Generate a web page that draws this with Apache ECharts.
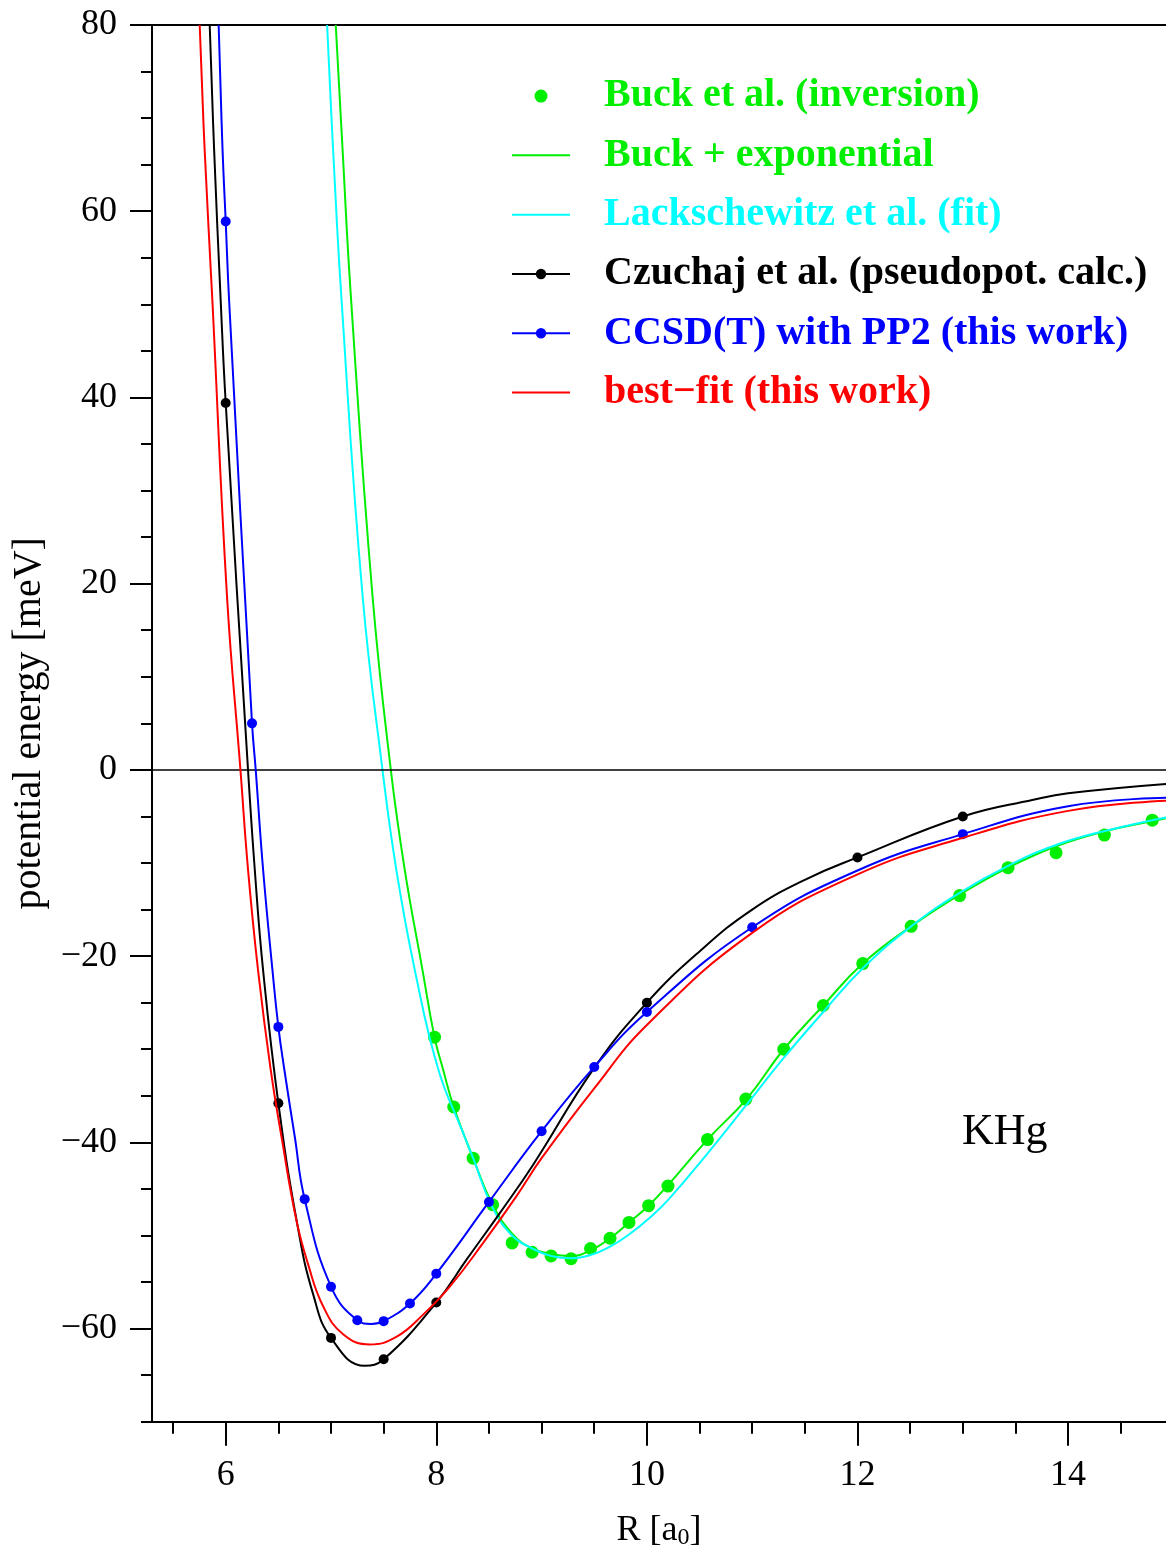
<!DOCTYPE html>
<html><head><meta charset="utf-8">
<script src="https://cdn.jsdelivr.net/npm/echarts@6/dist/echarts.min.js"></script>
<style>html,body{margin:0;padding:0;background:#fff}#c{width:1166px;height:1555px}</style>
</head><body><div id="c"></div>
<script>
// ---- tick values ----
const xMajorTicks = [6, 8, 10, 12, 14];
const xMinorTicks = [5.5, 6.5, 7, 7.5, 8.5, 9, 9.5, 10.5, 11, 11.5, 12.5, 13, 13.5, 14.5];
const yMajorTicks = [-60, -40, -20, 0, 20, 40, 60, 80];
const yMinorTicks = [-70, -65, -55, -50, -45, -35, -30, -25, -15, -10, -5, 5, 10, 15, 25, 30, 35, 45, 50, 55, 65, 70, 75];

// ---- Buck et al. (inversion) points ----
const buckInvR = [7.983, 8.166, 8.35, 8.535, 8.72, 8.91, 9.09, 9.28, 9.465, 9.65, 9.83, 10.016, 10.2, 10.575, 10.94, 11.3, 11.675, 12.05, 12.51, 12.97, 13.43, 13.886, 14.345, 14.8];
const buckInvE = [-28.7, -36.2, -41.7, -46.7, -50.8, -51.8, -52.2, -52.5, -51.4, -50.3, -48.6, -46.8, -44.7, -39.7, -35.35, -30.0, -25.3, -20.8, -16.8, -13.5, -10.5, -8.9, -7.0, -5.4];

// ---- Buck + exponential curve ----
const buckExpR = [7.045, 7.11, 7.185, 7.394, 7.568, 7.70, 7.869, 7.983, 8.065, 8.166, 8.35, 8.53, 8.72, 8.91, 9.09, 9.28, 9.465, 9.65, 9.83, 10.016, 10.2, 10.575, 10.95, 11.3, 11.675, 12.05, 12.51, 12.97, 13.43, 13.886, 14.345, 14.8, 14.93];
const buckExpE = [80, 66.6, 51.5, 18.7, 0, -10.7, -21.5, -28.7, -32.2, -36.2, -41.7, -46.6, -49.8, -51.4, -52.0, -52.2, -51.6, -50.3, -48.6, -46.8, -44.6, -39.7, -35.3, -30.0, -25.3, -20.8, -16.8, -13.4, -10.5, -8.2, -6.6, -5.5, -5.2];

// ---- Lackschewitz et al. (fit) ----
const lackR = [6.963, 7.02, 7.10, 7.30, 7.489, 7.62, 7.796, 8.02, 8.255, 8.35, 8.53, 8.72, 8.91, 9.09, 9.28, 9.465, 9.65, 9.83, 10.016, 10.2, 10.575, 10.93, 11.28, 11.675, 12.05, 12.51, 12.97, 13.43, 13.886, 14.37, 14.93];
const lackE = [80, 66.6, 50.5, 18.7, 0, -10.7, -21.5, -32.2, -39.0, -41.7, -46.9, -50.0, -51.4, -52.2, -52.45, -52.1, -51.2, -49.9, -48.2, -46.2, -41.2, -36.2, -31.2, -26.0, -21.3, -16.8, -13.2, -10.3, -8.06, -6.5, -5.1];

// ---- Czuchaj et al. (pseudopot. calc.) ----
const czuchajR = [5.848, 5.89, 5.952, 6.212, 6.276, 6.355, 6.68, 6.83, 7.32, 8.287, 8.603, 8.92, 9.5, 10.5, 11.0, 11.5, 13.67, 14.0, 14.93];
const czuchajE = [80, 66.6, 50.5, 0, -10.7, -21.5, -48.8, -56.3, -64.0, -52.6, -47.6, -42.4, -32.0, -19.5, -15.0, -11.8, -3.2, -2.5, -1.5];
const czuchajMarkR = [6, 6.5, 7, 7.5, 8, 10, 12, 13];
const czuchajMarkE = [39.4, -35.8, -61.0, -63.3, -57.2, -25.0, -9.4, -5.0];

// ---- CCSD(T) with PP2 (this work) ----
const ccsdR = [5.933, 5.97, 6.032, 6.285, 6.355, 6.444, 6.557, 6.656, 7.384, 12.0, 14.0, 14.93];
const ccsdE = [80, 66.6, 50.5, 0, -10.7, -21.5, -32.2, -39.4, -59.5, -10.8, -3.9, -3.0];
const ccsdMarkR = [6, 6.25, 6.5, 6.75, 7, 7.25, 7.5, 7.75, 8, 8.5, 9, 9.5, 10, 11, 13];
const ccsdMarkE = [58.9, 5.0, -27.6, -46.1, -55.5, -59.1, -59.2, -57.3, -54.1, -46.4, -38.8, -31.9, -26.0, -16.9, -6.9];

// ---- best-fit (this work) ----
const bestR = [5.753, 5.80, 5.873, 6.012, 6.14, 6.212, 6.307, 6.427, 6.53, 6.67, 6.78, 6.925, 7.115, 7.37, 7.62, 7.875, 8.128, 8.445, 8.76, 9.0, 9.5, 10.0, 11.0, 11.985, 12.97, 14.0, 14.93];
const bestE = [80, 66.6, 50.5, 18.7, 0, -10.7, -21.5, -32.2, -39.4, -48.3, -53.0, -57.6, -60.6, -61.7, -60.9, -58.5, -55.5, -50.8, -45.8, -41.7, -34.2, -27.4, -17.5, -11.3, -7.4, -4.4, -3.3];

// ---- styling ----
const FONT = 'Liberation Serif';
const GREEN = '#00ee00', CYAN = '#00ffff', BLACK = '#000000', BLUE = '#0000ff', RED = '#ff0000';
const LINE_ICON = 'path://M0,0 L58,0 L58,2 L0,2 Z';

function zip(r, e) { return r.map((v, i) => [v, e[i]]); }
function merged(cR, cE, mR, mE) {
  const pts = cR.map((r, i) => ({ value: [r, cE[i]], symbol: 'none' }));
  mR.forEach((r, i) => pts.push({ value: [r, mE[i]] }));
  pts.sort((a, b) => a.value[0] - b.value[0]);
  return pts;
}
const minus = v => String(v).replace('-', '\u2212');

const X_MIN = 5.3, X_MAX = 14.93, Y_MIN = -70, Y_MAX = 80;
const axisLineStyle = { color: '#000', width: 2 };

const lineCommon = { type: 'line', smooth: 0.45, clip: true, animation: false };

const chart = echarts.init(document.getElementById('c'), null, { renderer: 'canvas' });
chart.setOption({
  backgroundColor: '#ffffff',
  animation: false,
  grid: { left: 152, top: 25, right: 0, bottom: 133.3, containLabel: false },
  legend: {
    orient: 'vertical', left: 511, top: 66.4, padding: 0,
    itemWidth: 58, itemHeight: 13, itemGap: 0,
    selectedMode: false,
    textStyle: { fontFamily: FONT, fontWeight: 'bold', fontSize: 40, lineHeight: 59.3, padding: [0, 0, 0, 29] },
    data: [
      { name: 'Buck et al. (inversion)', textStyle: { color: GREEN } },
      { name: 'Buck + exponential', icon: LINE_ICON, textStyle: { color: GREEN } },
      { name: 'Lackschewitz et al. (fit)', icon: LINE_ICON, textStyle: { color: CYAN } },
      { name: 'Czuchaj et al. (pseudopot. calc.)', textStyle: { color: BLACK } },
      { name: 'CCSD(T) with PP2 (this work)', textStyle: { color: BLUE } },
      { name: 'best\u2212fit (this work)', icon: LINE_ICON, textStyle: { color: RED } }
    ]
  },
  xAxis: [
    {
      type: 'value', min: X_MIN, max: X_MAX, position: 'bottom',
      axisLine: { show: true, onZero: false, lineStyle: axisLineStyle },
      axisTick: { show: true, customValues: xMajorTicks, length: 24, lineStyle: axisLineStyle },
      axisLabel: { show: true, customValues: xMajorTicks, margin: 36, fontSize: 36, fontFamily: FONT, color: '#000' },
      splitLine: { show: false },
      name: 'R [a{s|0}]', nameLocation: 'middle', nameGap: 90,
      nameTextStyle: { fontSize: 36, fontFamily: FONT, color: '#000',
        rich: { s: { fontSize: 24, fontFamily: FONT, color: '#000', verticalAlign: 'bottom', padding: [14, 0, 0, 0] } } }
    },
    {
      type: 'value', min: X_MIN, max: X_MAX, position: 'bottom',
      axisLine: { show: false, onZero: false },
      axisTick: { show: true, customValues: xMinorTicks, length: 12, lineStyle: axisLineStyle },
      axisLabel: { show: false }, splitLine: { show: false }
    },
    {
      type: 'value', min: X_MIN, max: X_MAX, position: 'top',
      axisLine: { show: true, onZero: false, lineStyle: axisLineStyle },
      axisTick: { show: false }, axisLabel: { show: false }, splitLine: { show: false }
    }
  ],
  yAxis: [
    {
      type: 'value', min: Y_MIN, max: Y_MAX, position: 'left',
      axisLine: { show: true, onZero: false, lineStyle: axisLineStyle },
      axisTick: { show: true, customValues: yMajorTicks, length: 22, lineStyle: axisLineStyle },
      axisLabel: { show: true, customValues: yMajorTicks, margin: 35, fontSize: 36, fontFamily: FONT, color: '#000', formatter: minus },
      splitLine: { show: false },
      name: 'potential energy [meV]', nameLocation: 'middle', nameGap: 100,
      nameTextStyle: { fontSize: 40, fontFamily: FONT, color: '#000' }
    },
    {
      type: 'value', min: Y_MIN, max: Y_MAX, position: 'left',
      axisLine: { show: false, onZero: false },
      axisTick: { show: true, customValues: yMinorTicks, length: 11, lineStyle: axisLineStyle },
      axisLabel: { show: false }, splitLine: { show: false }
    }
  ],
  series: [
    {
      name: 'Buck et al. (inversion)', type: 'scatter', data: zip(buckInvR, buckInvE),
      symbol: 'circle', symbolSize: 13, itemStyle: { color: GREEN, opacity: 1 }, z: 2, animation: false
    },
    Object.assign({}, lineCommon, {
      name: 'Buck + exponential', data: zip(buckExpR, buckExpE), symbol: 'none',
      lineStyle: { color: GREEN, width: 2 }, itemStyle: { color: GREEN }, z: 3,
      markLine: { silent: true, symbol: ['none', 'none'], label: { show: false },
        lineStyle: { color: '#000', width: 1.5, type: 'solid' }, data: [{ yAxis: 0 }] }
    }),
    Object.assign({}, lineCommon, {
      name: 'Lackschewitz et al. (fit)', data: zip(lackR, lackE), symbol: 'none',
      lineStyle: { color: CYAN, width: 2 }, itemStyle: { color: CYAN }, z: 4
    }),
    Object.assign({}, lineCommon, {
      name: 'Czuchaj et al. (pseudopot. calc.)', data: merged(czuchajR, czuchajE, czuchajMarkR, czuchajMarkE),
      symbol: 'circle', symbolSize: 10, showSymbol: true,
      lineStyle: { color: BLACK, width: 2 }, itemStyle: { color: BLACK }, z: 5
    }),
    Object.assign({}, lineCommon, {
      name: 'CCSD(T) with PP2 (this work)', data: merged(ccsdR, ccsdE, ccsdMarkR, ccsdMarkE),
      symbol: 'circle', symbolSize: 10, showSymbol: true,
      lineStyle: { color: BLUE, width: 2 }, itemStyle: { color: BLUE }, z: 6
    }),
    Object.assign({}, lineCommon, {
      name: 'best\u2212fit (this work)', data: zip(bestR, bestE), symbol: 'none',
      lineStyle: { color: RED, width: 2 }, itemStyle: { color: RED }, z: 7
    })
  ],
  graphic: [
    { type: 'text', left: 962, top: 1110, style: { text: 'KHg', fontSize: 44, fontFamily: FONT, fill: '#000' } }
  ]
});
</script>
</body></html>
